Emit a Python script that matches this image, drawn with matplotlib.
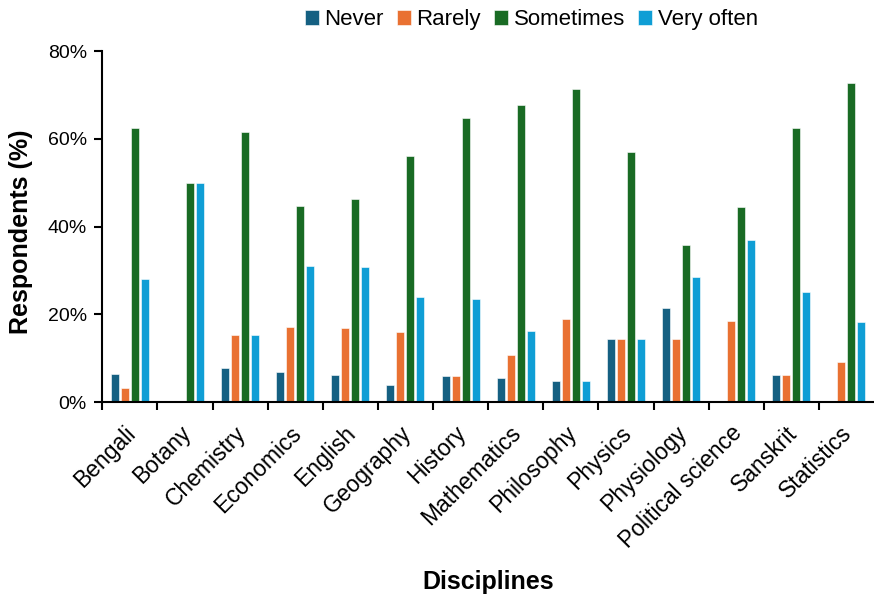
import matplotlib.pyplot as plt
import matplotlib.transforms as mtransforms
import numpy as np

plt.rcParams['font.family'] = ['Liberation Sans', 'DejaVu Sans']

disciplines = ['Bengali', 'Botany', 'Chemistry', 'Economics', 'English', 'Geography',
               'History', 'Mathematics', 'Philosophy', 'Physics', 'Physiology',
               'Political science', 'Sanskrit', 'Statistics']
never = [6.3, 0, 7.7, 6.9, 6.1, 4.0, 5.9, 5.4, 4.8, 14.3, 21.4, 0, 6.25, 0]
rarely = [3.1, 0, 15.4, 17.2, 16.9, 16.0, 5.9, 10.8, 19.0, 14.3, 14.3, 18.5, 6.25, 9.1]
sometimes = [62.5, 50.0, 61.5, 44.8, 46.2, 56.0, 64.7, 67.6, 71.4, 57.1, 35.7, 44.4, 62.5, 72.7]
very_often = [28.1, 50.0, 15.4, 31.0, 30.8, 24.0, 23.5, 16.2, 4.8, 14.3, 28.6, 37.0, 25.0, 18.2]

series = [('Never', never, '#156082'),
          ('Rarely', rarely, '#E97132'),
          ('Sometimes', sometimes, '#196B24'),
          ('Very often', very_often, '#0F9ED5')]

fig = plt.figure(figsize=(8.74, 6.01), dpi=100)
ax = fig.add_axes([0.117, 0.331, 0.883, 0.584])

x = np.arange(len(disciplines))
step = 0.181
width = 0.145
for i, (name, vals, col) in enumerate(series):
    ax.bar(x + (i - 1.5) * step, vals, width, color=col, label=name,
           edgecolor='white', linewidth=0.4)

ax.set_xlim(-0.5, len(disciplines) - 0.5)
ax.set_ylim(0, 80)
ax.set_yticks([0, 20, 40, 60, 80])
ax.set_yticklabels(['0%', '20%', '40%', '60%', '80%'], fontsize=14)

# category labels in the middle, tick marks between categories
ax.set_xticks(x)
ax.set_xticklabels(disciplines, fontsize=16.5, rotation=45, ha='right',
                   va='top', rotation_mode='anchor')
ax.tick_params(axis='x', which='major', length=0, pad=14)
shift = mtransforms.ScaledTranslation(-6 / 100, 0, fig.dpi_scale_trans)
for lab in ax.get_xticklabels():
    lab.set_transform(lab.get_transform() + shift)
ax.set_xticks(np.arange(len(disciplines)) - 0.5, minor=True)
ax.tick_params(axis='x', which='minor', length=6, width=1.5, direction='out')
ax.tick_params(axis='y', length=6, width=1.5, direction='out', pad=5)

ax.spines['right'].set_color('none')
ax.spines['top'].set_color('none')
ax.spines['left'].set_linewidth(1.5)
ax.spines['bottom'].set_linewidth(1.5)

fig.text(0.024, 0.614, 'Respondents (%)', fontsize=18, fontweight='bold',
         rotation=90, ha='center', va='center')
fig.text(0.558, 0.031, 'Disciplines', fontsize=18, fontweight='bold',
         ha='center', va='center')

fig.legend(loc='center', bbox_to_anchor=(0.608, 0.967), ncol=4, frameon=False,
           fontsize=16, handlelength=0.62, handleheight=0.62, handletextpad=0.25,
           columnspacing=0.6)

plt.savefig('out.png', dpi=100)
